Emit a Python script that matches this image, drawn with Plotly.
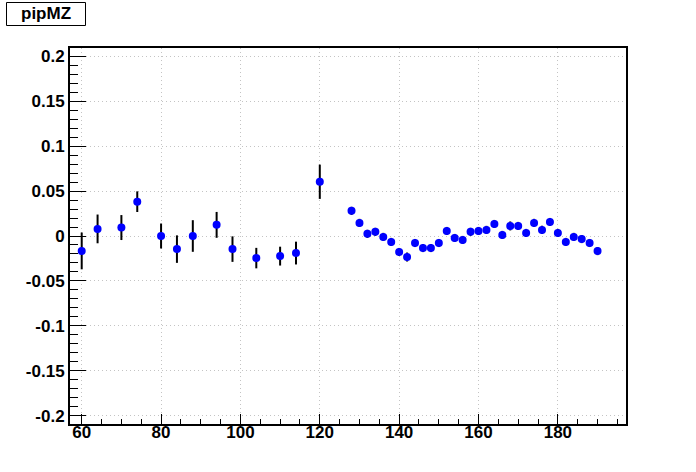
import plotly.graph_objects as go

# ---- data ----
x_vals = [60, 64, 70, 74, 80, 84, 88, 94, 98, 104, 110, 114, 120,
          128, 130, 132, 134, 136, 138, 140, 142, 144, 146, 148, 150,
          152, 154, 156, 158, 160, 162, 164, 166, 168, 170, 172, 174,
          176, 178, 180, 182, 184, 186, 188, 190]
y_vals = [-0.0166, 0.0079, 0.0094, 0.0382, 0.0000, -0.0146, 0.0000, 0.0124, -0.0146,
          -0.0246, -0.0224, -0.0190, 0.0604,
          0.0280, 0.0146, 0.0024, 0.0046, -0.0010, -0.0066, -0.0178, -0.0234,
          -0.0078, -0.0134, -0.0134, -0.0078, 0.0056, -0.0022, -0.0044,
          0.0046, 0.0056, 0.0068, 0.0134, 0.0012, 0.0112, 0.0112, 0.0034,
          0.0146, 0.0068, 0.0156, 0.0034, -0.0066, -0.0010, -0.0034,
          -0.0078, -0.0168]
y_errs = [0.0205, 0.0160, 0.0139, 0.0115, 0.0139, 0.0153, 0.0176, 0.0144, 0.0142,
          0.0114, 0.0105, 0.0127, 0.0191,
          0.0045, 0.0045, 0.0045, 0.0045, 0.0045, 0.0045, 0.0045, 0.0050,
          0.0045, 0.0045, 0.0045, 0.0045, 0.0045, 0.0045, 0.0045,
          0.0045, 0.0045, 0.0045, 0.0045, 0.0045, 0.0050, 0.0045, 0.0045,
          0.0045, 0.0045, 0.0045, 0.0045, 0.0045, 0.0045, 0.0045,
          0.0045, 0.0045]

x_tick_vals = [60, 80, 100, 120, 140, 160, 180]
x_tick_text = ["60", "80", "100", "120", "140", "160", "180"]
y_tick_vals = [-0.2, -0.15, -0.1, -0.05, 0, 0.05, 0.1, 0.15, 0.2]
y_tick_text = ["-0.2", "-0.15", "-0.1", "-0.05", "0", "0.05", "0.1", "0.15", "0.2"]
title_text = "pipMZ"

FONT = dict(family="Liberation Sans, Arial, sans-serif", size=17, color="black", weight="bold")

fig = go.Figure()
fig.add_trace(go.Scatter(
    x=x_vals, y=y_vals, mode="markers",
    marker=dict(color="#0000ff", size=8, symbol="circle", line=dict(width=0)),
    error_y=dict(type="data", array=y_errs, visible=True, color="black",
                 thickness=2, width=0),
    showlegend=False,
))

axis_common = dict(
    showline=True, linecolor="black", linewidth=2, mirror=True,
    showgrid=True, gridcolor="#c4c4c4", griddash="1px,3px", gridwidth=1,
    zeroline=False, ticks="inside", tickcolor="black", tickwidth=1,
    tickfont=FONT, automargin=False,
)

fig.update_xaxes(
    range=[57.05, 197.17], tickmode="array", tickvals=x_tick_vals, ticktext=x_tick_text,
    ticklen=10, ticklabelstandoff=-8,
    minor=dict(ticks="inside", ticklen=5, dtick=5, tick0=60, tickcolor="black", showgrid=False),
    **axis_common,
)
fig.update_yaxes(
    range=[-0.2093, 0.2093], tickmode="array", tickvals=y_tick_vals, ticktext=y_tick_text,
    ticklen=16,
    minor=dict(ticks="inside", ticklen=8, dtick=0.01, tick0=0, tickcolor="black", showgrid=False),
    **axis_common,
)

W, H = 696, 472
L, R, T, B = 70, 70, 48, 48
pw, ph = W - L - R, H - T - B

def px(xp):
    return (xp - L) / pw

def py(yp):
    return (H - B - yp) / ph

fig.add_shape(type="rect", xref="paper", yref="paper",
              x0=px(6.5), x1=px(85.5), y0=py(25.5), y1=py(2.5),
              line=dict(color="black", width=1), fillcolor="white")
fig.add_annotation(text=title_text, xref="paper", yref="paper",
                   x=px(46), y=py(14), xanchor="center", yanchor="middle",
                   showarrow=False, font=FONT)

fig.update_layout(
    width=W, height=H,
    margin=dict(l=L, r=R, t=T, b=B, autoexpand=False),
    paper_bgcolor="white", plot_bgcolor="white",
)

# remove the browser's default 8px body margin so the figure sits at the page origin
fig.write_html("out.html",
               config={"displayModeBar": False, "staticPlot": True},
               post_script="document.body.style.margin='0';document.body.style.overflow='hidden';")
